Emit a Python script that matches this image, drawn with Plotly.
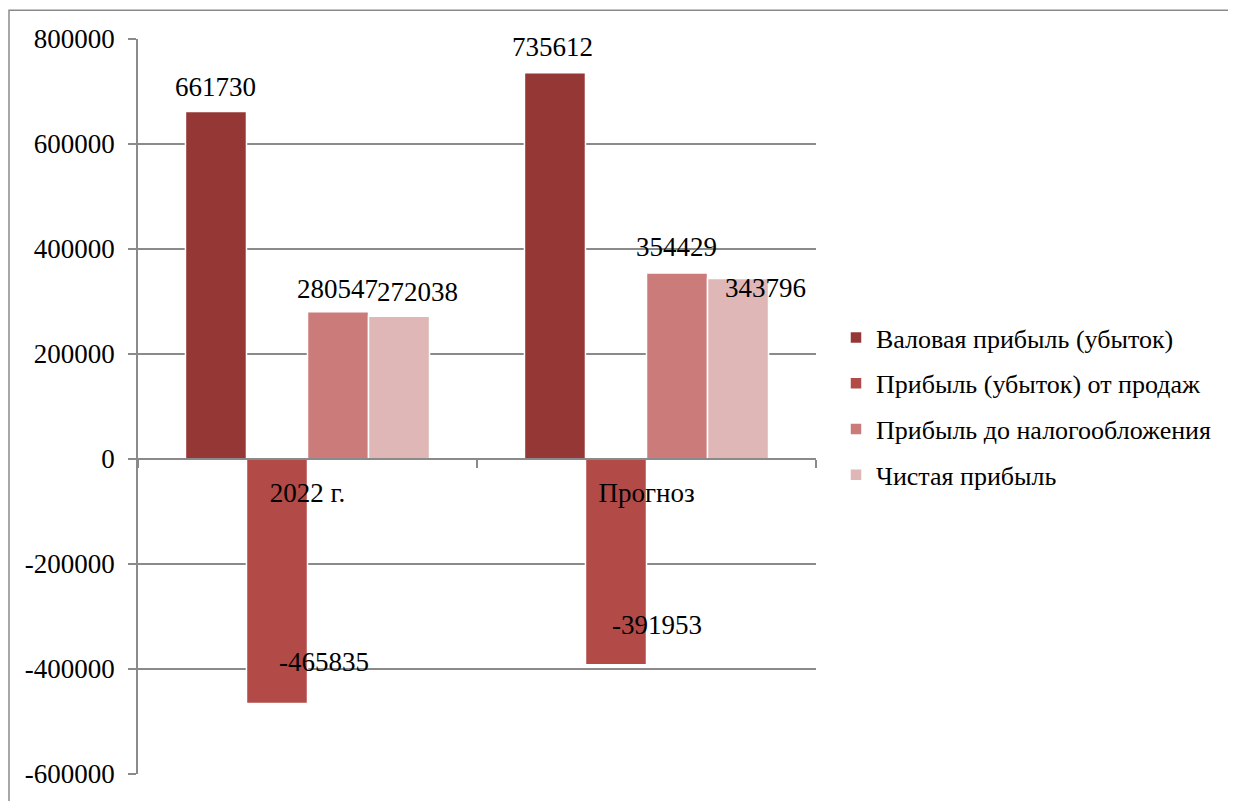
import plotly.graph_objects as go

# --- data -------------------------------------------------------------
categories = ["2022 г.", "Прогноз"]
series_names = [
    "Валовая прибыль (убыток)",
    "Прибыль (убыток) от продаж",
    "Прибыль до налогообложения",
    "Чистая прибыль",
]
gross_profit = [661730, 735612]
sales_profit = [-465835, -391953]
pretax_profit = [280547, 354429]
net_profit = [272038, 343796]
y_ticks = [-600000, -400000, -200000, 0, 200000, 400000, 600000, 800000]

# --- style --------------------------------------------------------------
colors = ["#953735", "#B24A47", "#CB7B79", "#DFB7B6"]
FONT = "Liberation Serif"
FS = 27
GRID = "#8a8a8a"
# page body adds an 8px margin, so the figure is a bit smaller than the window
W, H = 1228, 793
PL, PR, PT, PB = 130, 808, 31, 770   # plot area in figure pixels
BARGAP = 0.28
Y_RANGE = [-600000, 800000]

# label nudges (px) per series / category, as placed in the source chart
label_dx = [[0, -2], [47, 41], [-1, -1], [18, 27]]
label_dy = [[25, 26], [42, 40], [23, 26], [24, -9]]

all_series = [gross_profit, sales_profit, pretax_profit, net_profit]

fig = go.Figure()
for name, vals, col in zip(series_names, all_series, colors):
    fig.add_trace(go.Bar(
        x=categories,
        y=vals,
        name=name,
        legendgroup=name,
        marker=dict(color=col, line=dict(color="white", width=1.5)),
    ))

# value labels, anchored to each bar through the category axis
n = len(all_series)
bar_frac = (1 - BARGAP) / n
for i, vals in enumerate(all_series):
    for j, v in enumerate(vals):
        fig.add_annotation(
            x=j + (i - (n - 1) / 2) * bar_frac,
            y=v,
            xref="x", yref="y",
            text=str(v),
            showarrow=False,
            xanchor="center", yanchor="middle",
            xshift=label_dx[i][j], yshift=label_dy[i][j],
            font=dict(family=FONT, size=FS, color="black"),
        )

plot_w, plot_h = PR - PL, PB - PT
zero_pos = (0 - Y_RANGE[0]) / (Y_RANGE[1] - Y_RANGE[0])

# outer frame (top and left edges visible, rest clipped)
fig.add_shape(
    type="rect", xref="paper", yref="paper",
    x0=(1 - PL) / plot_w, x1=(W + 20 - PL) / plot_w,
    y0=(PB - (H + 20)) / plot_h, y1=(PB - 2) / plot_h,
    line=dict(color="#8a8a8a", width=1.5), layer="below",
)

fig.update_layout(
    width=W, height=H,
    margin=dict(l=PL, r=W - PR, t=PT, b=H - PB),
    paper_bgcolor="white", plot_bgcolor="white",
    barmode="group", bargap=BARGAP, bargroupgap=0,
    font=dict(family=FONT, size=FS, color="black"),
    xaxis=dict(
        anchor="free", position=zero_pos,
        showline=True, linecolor=GRID, linewidth=1.5,
        ticks="outside", tickson="boundaries", ticklen=8,
        tickcolor=GRID, tickwidth=1.5,
        showgrid=False, ticklabelstandoff=10,
        tickfont=dict(family=FONT, size=FS),
    ),
    yaxis=dict(
        range=Y_RANGE, tickvals=y_ticks,
        ticktext=[str(v) for v in y_ticks],
        showline=True, linecolor=GRID, linewidth=1.5,
        ticks="outside", ticklen=8, tickcolor=GRID, tickwidth=1.5,
        showgrid=True, gridcolor=GRID, gridwidth=1.5,
        zeroline=False, ticklabelstandoff=8,
        tickfont=dict(family=FONT, size=FS),
    ),
    legend=dict(
        x=(828 - PL) / plot_w, xanchor="left",
        y=0.5, yanchor="middle",
        font=dict(family=FONT, size=26),
        tracegroupgap=9, traceorder="grouped",
        bgcolor="rgba(0,0,0,0)",
    ),
    showlegend=True,
)

fig.write_html("out.html")
